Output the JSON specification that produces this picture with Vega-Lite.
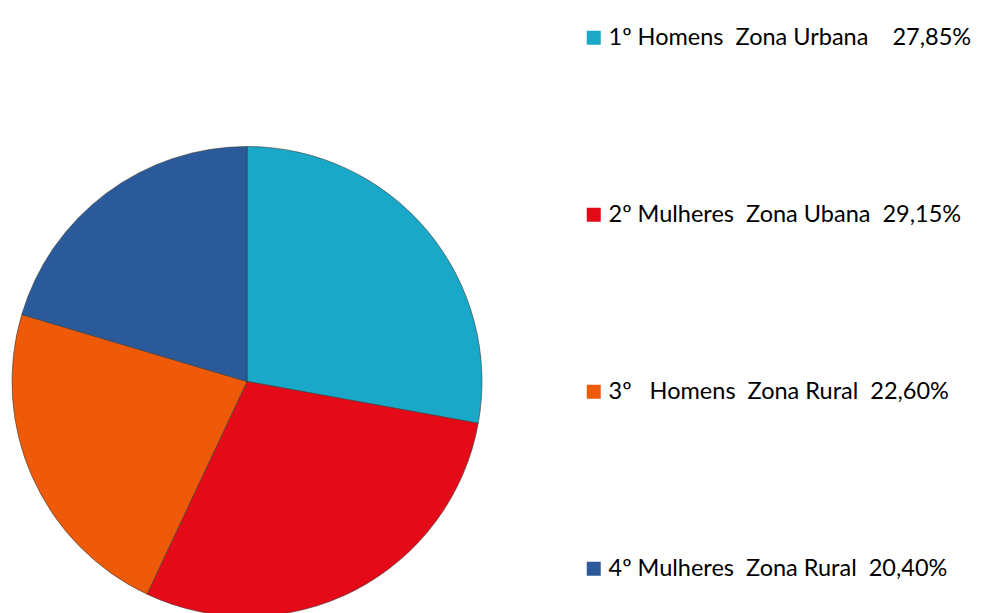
{
  "$schema": "https://vega.github.io/schema/vega-lite/v6.json",
  "autosize": "none",
  "width": 470,
  "height": 463,
  "padding": {"left": 12, "top": 150, "right": 502, "bottom": 0},
  "background": "white",
  "view": {"stroke": null},
  "data": {
    "values": [
      {"categoria": "1º Homens\u00a0 Zona Urbana\u00a0\u00a0\u00a0 27,85%", "ordem": 1, "valor": 27.85},
      {"categoria": "2º Mulheres\u00a0 Zona Ubana\u00a0 29,15%", "ordem": 2, "valor": 29.15},
      {"categoria": "3º\u00a0\u00a0 Homens\u00a0 Zona Rural\u00a0 22,60%", "ordem": 3, "valor": 22.60},
      {"categoria": "\u00a04º Mulheres\u00a0 Zona Rural\u00a0 20,40%", "ordem": 4, "valor": 20.40}
    ]
  },
  "mark": {"type": "arc", "outerRadius": 235, "stroke": "#3a3a3a", "strokeWidth": 0.6},
  "encoding": {
    "theta": {"field": "valor", "type": "quantitative", "stack": true},
    "order": {"field": "ordem", "type": "quantitative", "sort": "ascending"},
    "color": {
      "field": "categoria",
      "type": "nominal",
      "sort": {"field": "ordem"},
      "scale": {
        "domain": [
          "1º Homens\u00a0 Zona Urbana\u00a0\u00a0\u00a0 27,85%",
          "2º Mulheres\u00a0 Zona Ubana\u00a0 29,15%",
          "3º\u00a0\u00a0 Homens\u00a0 Zona Rural\u00a0 22,60%",
          "\u00a04º Mulheres\u00a0 Zona Rural\u00a0 20,40%"
        ],
        "range": ["#19A8C8", "#E40A18", "#EF5A08", "#2A5A99"]
      },
      "legend": {
        "title": null,
        "orient": "none",
        "legendX": 570,
        "legendY": -124,
        "symbolType": "square",
        "symbolSize": 196,
        "symbolStrokeWidth": 0,
        "symbolOpacity": 1,
        "labelFont": "Lato",
        "labelFontSize": 23.5,
        "labelColor": "#000000",
        "labelOffset": 3,
        "labelLimit": 0,
        "rowPadding": 152
      }
    }
  }
}
